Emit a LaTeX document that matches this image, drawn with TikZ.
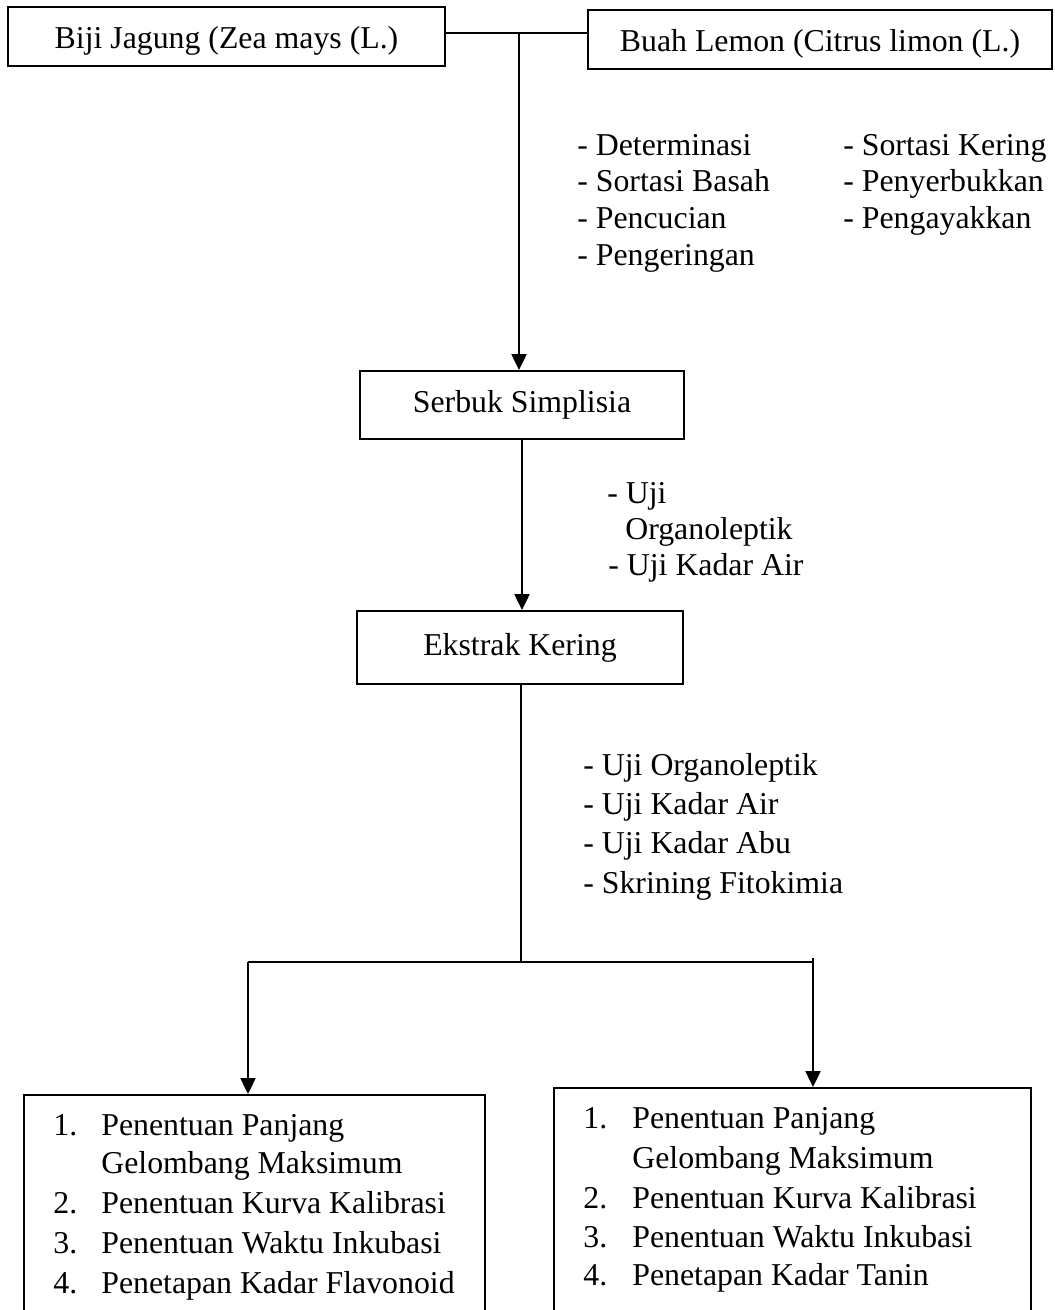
\documentclass[tikz,border=0pt]{standalone}
\usepackage{fontspec}
\setmainfont{Liberation Serif}
\usepackage{tikz}
\usetikzlibrary{positioning,arrows.meta,calc}

\newcommand{\diagfont}{\fontsize{18.1pt}{21pt}\selectfont}

\begin{document}
\begin{tikzpicture}[
  box/.style={draw, line width=1.1pt, inner sep=0pt, font=\diagfont},
  topbox/.style={box, minimum height=1.18cm, text height=0.61cm, text depth=0.14cm},
  lbl/.style={anchor=base west, inner sep=0pt, font=\diagfont},
  wire/.style={line width=1.1pt},
  arr/.style={line width=1.1pt, -{Triangle[length=9pt,width=8.5pt]}}
]
\useasboundingbox (0,0) rectangle (21.10,-26.20);

\node[topbox, minimum width=8.74cm] (biji) at (4.53, -0.73) {Biji Jagung (Zea mays (L.)};
\node[topbox, minimum width=9.28cm] (lemon) at (16.40, -0.79) {Buah Lemon (Citrus limon (L.)};
\node[box, minimum width=6.48cm, minimum height=1.36cm] (serbuk) at (10.44, -8.10) {Serbuk Simplisia};
\node[box, minimum width=6.52cm, minimum height=1.46cm] (ekstrak) at (10.40, -12.95) {Ekstrak Kering};
\node[box, anchor=north west, minimum width=9.22cm, minimum height=5.00cm] (flav) at (0.46, -21.88) {};
\node[box, anchor=north west, minimum width=9.54cm, minimum height=5.20cm] (tanin) at (11.06, -21.74) {};

\coordinate (join) at (10.38, -0.66);
\coordinate (split) at (10.42, -19.24);
\coordinate (leftend) at (4.96, -19.24);
\coordinate (rightend) at (16.26, -19.16);

\draw[wire] (biji.east |- join) -- (lemon.west |- join);
\draw[arr] (join) -- (join |- serbuk.north);
\draw[arr] (serbuk) -- (serbuk |- ekstrak.north);
\draw[wire] (ekstrak.south -| split) -- (split);
\draw[wire] (leftend) -- (rightend |- split);
\draw[wire] (rightend) -- (rightend |- split);
\draw[arr] (leftend) -- (leftend |- flav.north);
\draw[arr] (rightend) -- (rightend |- tanin.north);

% simplisia preparation
\node[lbl] (prep1) at (11.54, -3.10) {- Determinasi};
\node[lbl] (prep2) at (11.54, -3.83) {- Sortasi Basah};
\node[lbl] (prep3) at (11.54, -4.57) {- Pencucian};
\node[lbl] (prep4) at (11.54, -5.30) {- Pengeringan};
\node[lbl] (prep5) at (16.86, -3.10) {- Sortasi Kering};
\node[lbl] (prep6) at (16.86, -3.83) {- Penyerbukkan};
\node[lbl] (prep7) at (16.86, -4.57) {- Pengayakkan};

% powder tests
\node[lbl] (uji1) at (12.14, -10.06) {- Uji};
\node[lbl] (uji2) at (12.50, -10.78) {Organoleptik};
\node[lbl] (uji3) at (12.16, -11.50) {- Uji Kadar Air};

% extract tests
\node[lbl] (test1) at (11.66, -15.50) {- Uji Organoleptik};
\node[lbl] (test2) at (11.66, -16.29) {- Uji Kadar Air};
\node[lbl] (test3) at (11.66, -17.07) {- Uji Kadar Abu};
\node[lbl] (test4) at (11.66, -17.86) {- Skrining Fitokimia};

% flavonoid assay
\node[lbl] (fl1) at (1.06, -22.70) {\makebox[0.96cm][l]{1.}Penentuan Panjang};
\node[lbl] (fl2) at (2.02, -23.46) {Gelombang Maksimum};
\node[lbl] (fl3) at (1.06, -24.26) {\makebox[0.96cm][l]{2.}Penentuan Kurva Kalibrasi};
\node[lbl] (fl4) at (1.06, -25.06) {\makebox[0.96cm][l]{3.}Penentuan Waktu Inkubasi};
\node[lbl] (fl5) at (1.06, -25.86) {\makebox[0.96cm][l]{4.}Penetapan Kadar Flavonoid};

% tannin assay
\node[lbl] (tn1) at (11.66, -22.56) {\makebox[0.98cm][l]{1.}Penentuan Panjang};
\node[lbl] (tn2) at (12.64, -23.36) {Gelombang Maksimum};
\node[lbl] (tn3) at (11.66, -24.16) {\makebox[0.98cm][l]{2.}Penentuan Kurva Kalibrasi};
\node[lbl] (tn4) at (11.66, -24.94) {\makebox[0.98cm][l]{3.}Penentuan Waktu Inkubasi};
\node[lbl] (tn5) at (11.66, -25.70) {\makebox[0.98cm][l]{4.}Penetapan Kadar Tanin};

\end{tikzpicture}
\end{document}
